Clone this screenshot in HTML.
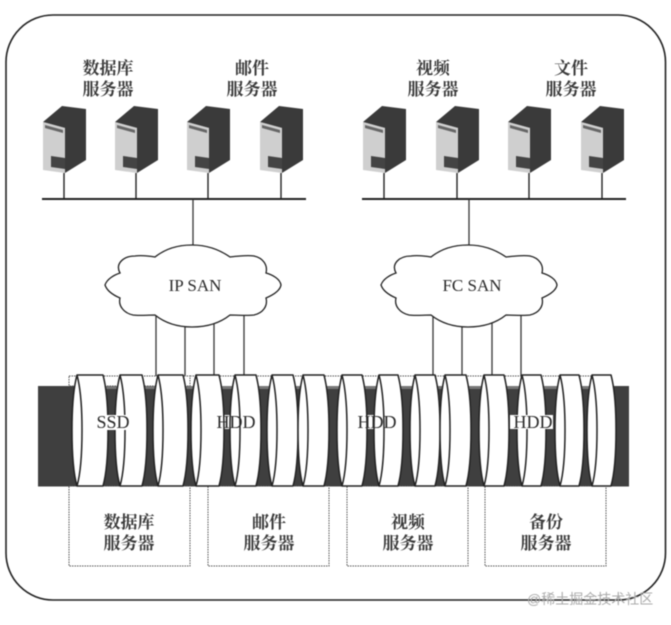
<!DOCTYPE html>
<html>
<head>
<meta charset="utf-8">
<style>
html,body{margin:0;padding:0;background:#fff;width:671px;height:625px;overflow:hidden}
svg{display:block;filter:blur(.5px)}
text{font-family:"Liberation Serif","Noto Serif CJK SC",serif;fill:#2a2a2a}
.c{font-family:"Noto Serif CJK SC",serif;font-size:17px;font-weight:700;text-anchor:middle;fill:#3a3a3a}
.e{font-size:18px;text-anchor:middle}
.s{font-size:17px;text-anchor:middle}
.disc{fill:#fff;stroke:#222;stroke-width:1.5;stroke-linejoin:round}
.inner{fill:none;stroke:#222;stroke-width:1.5}
.l{stroke:#333;stroke-width:1.3;fill:none}
.b{stroke:#222;stroke-width:2;fill:none}
.d{fill:none;stroke:#555;stroke-width:1;stroke-dasharray:1.5 1}
.cloud{fill:#fff;stroke:#222;stroke-width:1.3}
</style>
</head>
<body>
<svg width="671" height="625" viewBox="0 0 671 625" xmlns="http://www.w3.org/2000/svg">
<defs>
<g id="srv">
<polygon points="0,16 19,0 43,3 43,54 22,67 22,22" fill="#3a3a3a"/>
<polygon points="0,16 22,22 22,67 0,64" fill="#cfcfcf"/>
<polygon points="2,19 20,24 20,27 2,22" fill="#666"/>
<polygon points="8,50 22,52 22,63 8,61" fill="#444"/>
<line x1="21" y1="67" x2="21" y2="93" stroke="#222" stroke-width="1.4"/>
</g>
<path id="cl" class="cloud" d="M105,285 C107,279 114,275 120,273 C115,264 123,256 135,256 C142,255 149,256 155,257 C165,249 178,245 192,245 C207,245 220,250 230,257 C238,256 248,255 254,256 C263,258 268,265 266,273 C273,275 280,279 281,285 C280,291 273,295 266,298 C268,306 263,313 254,315 C247,316 238,315 230,315 C220,323 207,327 192,327 C178,327 165,323 155,315 C147,315 139,316 133,315 C124,313 118,306 120,298 C113,295 107,291 105,285 Z"/>
<path id="i" class="inner" d="M0,0 c4,15 5,35 5,55 c0,20 -1,42 -5,56"/>
</defs>

<rect x="6" y="15" width="659.5" height="585" rx="47" ry="47" fill="#fff" stroke="#222" stroke-width="1.6"/>

<text class="c" x="108" y="74">数据库</text>
<text class="c" x="108" y="95">服务器</text>
<text class="c" x="252" y="74">邮件</text>
<text class="c" x="252" y="95">服务器</text>
<text class="c" x="433" y="74">视频</text>
<text class="c" x="433" y="95">服务器</text>
<text class="c" x="571" y="74">文件</text>
<text class="c" x="571" y="95">服务器</text>

<use href="#srv" x="43" y="106"/>
<use href="#srv" x="115" y="106"/>
<use href="#srv" x="187" y="106"/>
<use href="#srv" x="260" y="106"/>
<use href="#srv" x="363" y="106"/>
<use href="#srv" x="436" y="106"/>
<use href="#srv" x="508" y="106"/>
<use href="#srv" x="581" y="106"/>

<line class="b" x1="42" y1="199" x2="306" y2="199"/>
<line class="b" x1="362" y1="199" x2="626" y2="199"/>
<line class="l" x1="193" y1="199" x2="193" y2="246"/>
<line class="l" x1="469" y1="199" x2="469" y2="246"/>

<g class="l">
<line x1="156" y1="315" x2="156" y2="376"/>
<line x1="185" y1="320" x2="185" y2="376"/>
<line x1="214" y1="320" x2="214" y2="376"/>
<line x1="244" y1="315" x2="244" y2="376"/>
<line x1="433" y1="315" x2="433" y2="376"/>
<line x1="462" y1="320" x2="462" y2="376"/>
<line x1="492" y1="320" x2="492" y2="376"/>
<line x1="521" y1="315" x2="521" y2="376"/>
</g>

<use href="#cl"/>
<use href="#cl" x="276"/>
<text class="s" x="195" y="291">IP SAN</text>
<text class="s" x="472" y="291">FC SAN</text>

<rect x="38" y="386" width="591" height="100.5" fill="#3f3f3f"/>
<rect x="74" y="386" width="538" height="3" fill="#777"/>
<rect x="69" y="376" width="121" height="10" class="d"/>
<line class="d" x1="190" y1="376" x2="606" y2="376"/>

<rect class="d" x="69" y="486" width="121" height="80"/>
<rect class="d" x="208" y="486" width="121" height="80"/>
<rect class="d" x="347" y="486" width="121" height="80"/>
<rect class="d" x="485" y="486" width="121" height="80"/>

<rect x="218" y="415" width="38" height="14" fill="#fff"/>
<rect x="358" y="415" width="38" height="14" fill="#fff"/>

<g>
<path class="disc" d="M77,375 h26 c4,15 5,35 5,55 c0,20 -1,42 -5,56 h-26 c-4,-14 -5,-36 -5,-56 c0,-20 1,-40 5,-55 z"/><use href="#i" x="77" y="375"/>
<path class="disc" d="M120,375 h22 c4,15 5,35 5,55 c0,20 -1,42 -5,56 h-22 c-4,-14 -5,-36 -5,-56 c0,-20 1,-40 5,-55 z"/><use href="#i" x="120" y="375"/>
<path class="disc" d="M158,375 h25 c4,15 5,35 5,55 c0,20 -1,42 -5,56 h-25 c-4,-14 -5,-36 -5,-56 c0,-20 1,-40 5,-55 z"/><use href="#i" x="158" y="375"/>
<path class="disc" d="M196,375 h23 c4,15 5,35 5,55 c0,20 -1,42 -5,56 h-23 c-4,-14 -5,-36 -5,-56 c0,-20 1,-40 5,-55 z"/><use href="#i" x="196" y="375"/>
<path class="disc" d="M235,375 h21 c4,15 5,35 5,55 c0,20 -1,42 -5,56 h-21 c-4,-14 -5,-36 -5,-56 c0,-20 1,-40 5,-55 z"/><use href="#i" x="235" y="375"/>
<path class="disc" d="M272,375 h21 c4,15 5,35 5,55 c0,20 -1,42 -5,56 h-21 c-4,-14 -5,-36 -5,-56 c0,-20 1,-40 5,-55 z"/><use href="#i" x="272" y="375"/>
<path class="disc" d="M303,375 h21 c4,15 5,35 5,55 c0,20 -1,42 -5,56 h-21 c-4,-14 -5,-36 -5,-56 c0,-20 1,-40 5,-55 z"/><use href="#i" x="303" y="375"/>
<path class="disc" d="M342,375 h20 c4,15 5,35 5,55 c0,20 -1,42 -5,56 h-20 c-4,-14 -5,-36 -5,-56 c0,-20 1,-40 5,-55 z"/><use href="#i" x="342" y="375"/>
<path class="disc" d="M379,375 h19 c4,15 5,35 5,55 c0,20 -1,42 -5,56 h-19 c-4,-14 -5,-36 -5,-56 c0,-20 1,-40 5,-55 z"/><use href="#i" x="379" y="375"/>
<path class="disc" d="M415,375 h20 c4,15 5,35 5,55 c0,20 -1,42 -5,56 h-20 c-4,-14 -5,-36 -5,-56 c0,-20 1,-40 5,-55 z"/><use href="#i" x="415" y="375"/>
<path class="disc" d="M445,375 h21 c4,15 5,35 5,55 c0,20 -1,42 -5,56 h-21 c-4,-14 -5,-36 -5,-56 c0,-20 1,-40 5,-55 z"/><use href="#i" x="445" y="375"/>
<path class="disc" d="M484,375 h20 c4,15 5,35 5,55 c0,20 -1,42 -5,56 h-20 c-4,-14 -5,-36 -5,-56 c0,-20 1,-40 5,-55 z"/><use href="#i" x="484" y="375"/>
<path class="disc" d="M522,375 h19 c4,15 5,35 5,55 c0,20 -1,42 -5,56 h-19 c-4,-14 -5,-36 -5,-56 c0,-20 1,-40 5,-55 z"/><use href="#i" x="522" y="375"/>
<path class="disc" d="M560,375 h19 c4,15 5,35 5,55 c0,20 -1,42 -5,56 h-19 c-4,-14 -5,-36 -5,-56 c0,-20 1,-40 5,-55 z"/><use href="#i" x="560" y="375"/>
<path class="disc" d="M592,375 h19 c4,15 5,35 5,55 c0,20 -1,42 -5,56 h-19 c-4,-14 -5,-36 -5,-56 c0,-20 1,-40 5,-55 z"/><use href="#i" x="592" y="375"/>
</g>

<rect x="96" y="415" width="33" height="15" fill="#fff"/>
<rect x="510" y="415" width="43" height="14" fill="#fff"/>
<text class="e" x="113" y="428">SSD</text>
<text class="e" x="236" y="428">HDD</text>
<text class="e" x="377" y="428">HDD</text>
<text class="e" x="533" y="428">HDD</text>

<text class="c" x="129" y="528">数据库</text>
<text class="c" x="129" y="549">服务器</text>
<text class="c" x="269" y="528">邮件</text>
<text class="c" x="269" y="549">服务器</text>
<text class="c" x="408" y="528">视频</text>
<text class="c" x="408" y="549">服务器</text>
<text class="c" x="546" y="528">备份</text>
<text class="c" x="546" y="549">服务器</text>

<text x="527" y="604" style="font-family:'Liberation Sans','Noto Sans CJK SC',sans-serif;font-size:14px;fill:#aaa">@稀土掘金技术社区</text>
</svg>
</body>
</html>
